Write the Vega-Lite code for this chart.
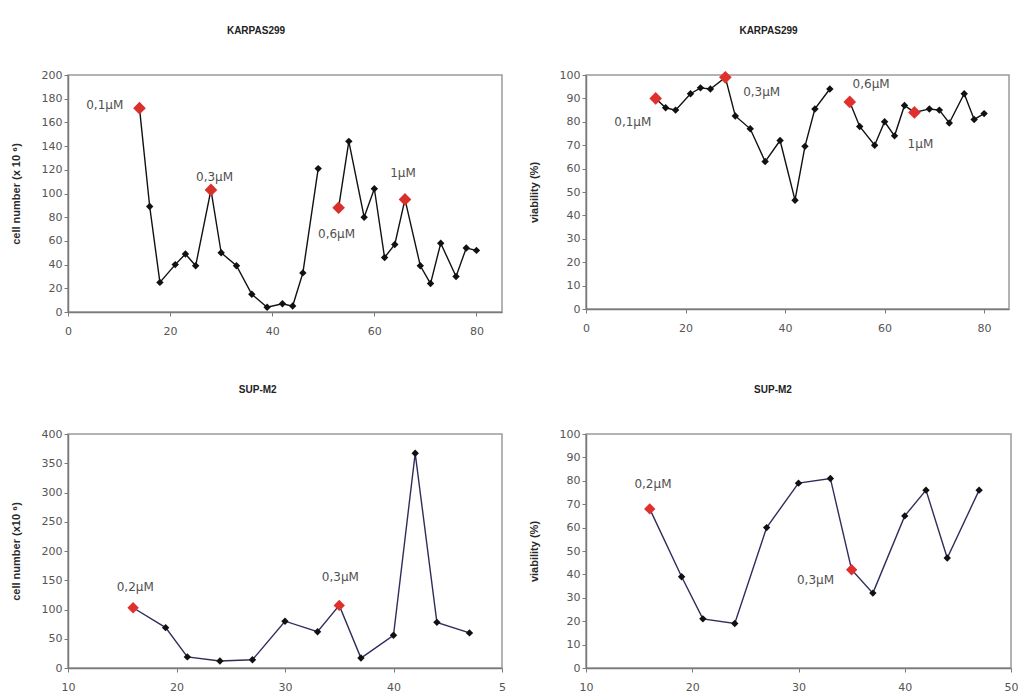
{
  "$schema": "https://vega.github.io/schema/vega-lite/v6.json",
  "background": "white",
  "padding": {"left": 9, "top": 25, "right": 4, "bottom": 2},
  "columns": 2,
  "spacing": {"column": 20, "row": 47},
  "datasets": {
    "k1": [
      {"day": 14, "value": 172, "seg": "A", "dose": "0,1µM"},
      {"day": 16, "value": 89, "seg": "A"},
      {"day": 18, "value": 25, "seg": "A"},
      {"day": 21, "value": 40, "seg": "A"},
      {"day": 23, "value": 49, "seg": "A"},
      {"day": 25, "value": 39, "seg": "A"},
      {"day": 28, "value": 103, "seg": "A", "dose": "0,3µM"},
      {"day": 30, "value": 50, "seg": "A"},
      {"day": 33, "value": 39, "seg": "A"},
      {"day": 36, "value": 15, "seg": "A"},
      {"day": 39, "value": 4, "seg": "A"},
      {"day": 42, "value": 7, "seg": "A"},
      {"day": 44, "value": 5, "seg": "A"},
      {"day": 46, "value": 33, "seg": "A"},
      {"day": 49, "value": 121, "seg": "A"},
      {"day": 53, "value": 88, "seg": "B", "dose": "0,6µM"},
      {"day": 55, "value": 144, "seg": "B"},
      {"day": 58, "value": 80, "seg": "B"},
      {"day": 60, "value": 104, "seg": "B"},
      {"day": 62, "value": 46, "seg": "B"},
      {"day": 64, "value": 57, "seg": "B"},
      {"day": 66, "value": 95, "seg": "B", "dose": "1µM"},
      {"day": 69, "value": 39, "seg": "B"},
      {"day": 71, "value": 24, "seg": "B"},
      {"day": 73, "value": 58, "seg": "B"},
      {"day": 76, "value": 30, "seg": "B"},
      {"day": 78, "value": 54, "seg": "B"},
      {"day": 80, "value": 52, "seg": "B"}
    ],
    "k2": [
      {"day": 14, "value": 90, "seg": "A", "dose": "0,1µM"},
      {"day": 16, "value": 86, "seg": "A"},
      {"day": 18, "value": 85, "seg": "A"},
      {"day": 21, "value": 92, "seg": "A"},
      {"day": 23, "value": 94.5, "seg": "A"},
      {"day": 25, "value": 94, "seg": "A"},
      {"day": 28, "value": 99, "seg": "A", "dose": "0,3µM"},
      {"day": 30, "value": 82.5, "seg": "A"},
      {"day": 33, "value": 77, "seg": "A"},
      {"day": 36, "value": 63, "seg": "A"},
      {"day": 39, "value": 72, "seg": "A"},
      {"day": 42, "value": 46.5, "seg": "A"},
      {"day": 44, "value": 69.5, "seg": "A"},
      {"day": 46, "value": 85.5, "seg": "A"},
      {"day": 49, "value": 94, "seg": "A"},
      {"day": 53, "value": 88.5, "seg": "B", "dose": "0,6µM"},
      {"day": 55, "value": 78, "seg": "B"},
      {"day": 58, "value": 70, "seg": "B"},
      {"day": 60, "value": 80, "seg": "B"},
      {"day": 62, "value": 74, "seg": "B"},
      {"day": 64, "value": 87, "seg": "B"},
      {"day": 66, "value": 84, "seg": "B", "dose": "1µM"},
      {"day": 69, "value": 85.5, "seg": "B"},
      {"day": 71, "value": 85, "seg": "B"},
      {"day": 73, "value": 79.5, "seg": "B"},
      {"day": 76, "value": 92, "seg": "B"},
      {"day": 78, "value": 81, "seg": "B"},
      {"day": 80, "value": 83.5, "seg": "B"}
    ],
    "s1": [
      {"day": 16, "value": 103, "dose": "0,2µM"},
      {"day": 19, "value": 69},
      {"day": 21, "value": 19},
      {"day": 24, "value": 12},
      {"day": 27, "value": 14},
      {"day": 30, "value": 80},
      {"day": 33, "value": 62},
      {"day": 35, "value": 107, "dose": "0,3µM"},
      {"day": 37, "value": 17},
      {"day": 40, "value": 56},
      {"day": 42, "value": 367},
      {"day": 44, "value": 78},
      {"day": 47, "value": 60}
    ],
    "s2": [
      {"day": 16, "value": 68, "dose": "0,2µM"},
      {"day": 19, "value": 39},
      {"day": 21, "value": 21},
      {"day": 24, "value": 19},
      {"day": 27, "value": 60},
      {"day": 30, "value": 79},
      {"day": 33, "value": 81},
      {"day": 35, "value": 42, "dose": "0,3µM"},
      {"day": 37, "value": 32},
      {"day": 40, "value": 65},
      {"day": 42, "value": 76},
      {"day": 44, "value": 47},
      {"day": 47, "value": 76}
    ]
  },
  "concat": [
    {
      "title": {"text": "KARPAS299"},
      "width": 434, "height": 237,
      "encoding": {
        "x": {"field": "day", "type": "quantitative", "scale": {"domain": [0, 85], "nice": false}, "axis": {"values": [0, 20, 40, 60, 80], "title": null}},
        "y": {"field": "value", "type": "quantitative", "scale": {"domain": [0, 200], "nice": false}, "axis": {"values": [0, 20, 40, 60, 80, 100, 120, 140, 160, 180, 200], "title": "cell number (x 10 ⁶)"}}
      },
      "layer": [
        {"data": {"name": "k1"}, "mark": {"type": "line", "color": "#111111", "strokeWidth": 1.4}, "encoding": {"detail": {"field": "seg"}}},
        {"data": {"name": "k1"}, "transform": [{"filter": "!isValid(datum.dose)"}], "mark": {"type": "point", "shape": "diamond", "filled": true, "color": "#111111", "size": 55, "opacity": 1}},
        {"data": {"name": "k1"}, "transform": [{"filter": "isValid(datum.dose)"}], "mark": {"type": "point", "shape": "diamond", "filled": true, "color": "#d9302c", "size": 160, "opacity": 1}},
        {"data": {"values": [
          {"lx": 7.2, "ly": 175, "dose": "0,1µM"},
          {"lx": 28.7, "ly": 114, "dose": "0,3µM"},
          {"lx": 52.6, "ly": 66, "dose": "0,6µM"},
          {"lx": 65.6, "ly": 117.5, "dose": "1µM"}
        ]}, "mark": {"type": "text", "fontSize": 12, "font": "DejaVu Sans", "color": "#505050"},
         "encoding": {"x": {"field": "lx", "type": "quantitative"}, "y": {"field": "ly", "type": "quantitative"}, "text": {"field": "dose"}}}
      ]
    },
    {
      "title": {"text": "KARPAS299"},
      "width": 423, "height": 234,
      "encoding": {
        "x": {"field": "day", "type": "quantitative", "scale": {"domain": [0, 85], "nice": false}, "axis": {"values": [0, 20, 40, 60, 80], "title": null}},
        "y": {"field": "value", "type": "quantitative", "scale": {"domain": [0, 100], "nice": false}, "axis": {"values": [0, 10, 20, 30, 40, 50, 60, 70, 80, 90, 100], "title": "viability (%)"}}
      },
      "layer": [
        {"data": {"name": "k2"}, "mark": {"type": "line", "color": "#111111", "strokeWidth": 1.4}, "encoding": {"detail": {"field": "seg"}}},
        {"data": {"name": "k2"}, "transform": [{"filter": "!isValid(datum.dose)"}], "mark": {"type": "point", "shape": "diamond", "filled": true, "color": "#111111", "size": 55, "opacity": 1}},
        {"data": {"name": "k2"}, "transform": [{"filter": "isValid(datum.dose)"}], "mark": {"type": "point", "shape": "diamond", "filled": true, "color": "#e0302c", "size": 160, "opacity": 1}},
        {"data": {"values": [
          {"lx": 9.4, "ly": 80, "dose": "0,1µM"},
          {"lx": 35.3, "ly": 92.6, "dose": "0,3µM"},
          {"lx": 57.3, "ly": 96.1, "dose": "0,6µM"},
          {"lx": 67.2, "ly": 70.7, "dose": "1µM"}
        ]}, "mark": {"type": "text", "fontSize": 12, "font": "DejaVu Sans", "color": "#505050"},
         "encoding": {"x": {"field": "lx", "type": "quantitative"}, "y": {"field": "ly", "type": "quantitative"}, "text": {"field": "dose"}}}
      ]
    },
    {
      "title": {"text": "SUP-M2"},
      "width": 434, "height": 234,
      "encoding": {
        "x": {"field": "day", "type": "quantitative", "scale": {"domain": [10, 50], "nice": false}, "axis": {"values": [10, 20, 30, 40, 50], "title": null, "labelExpr": "datum.value == 50 ? '5' : datum.label"}},
        "y": {"field": "value", "type": "quantitative", "scale": {"domain": [0, 400], "nice": false}, "axis": {"values": [0, 50, 100, 150, 200, 250, 300, 350, 400], "title": "cell number (x10 ⁶)"}}
      },
      "layer": [
        {"data": {"name": "s1"}, "mark": {"type": "line", "color": "#2e2e5c", "strokeWidth": 1.4}},
        {"data": {"name": "s1"}, "transform": [{"filter": "!isValid(datum.dose)"}], "mark": {"type": "point", "shape": "diamond", "filled": true, "color": "#111111", "size": 55, "opacity": 1}},
        {"data": {"name": "s1"}, "transform": [{"filter": "isValid(datum.dose)"}], "mark": {"type": "point", "shape": "diamond", "filled": true, "color": "#e0302c", "size": 130, "opacity": 1}},
        {"data": {"values": [
          {"lx": 16.2, "ly": 139, "dose": "0,2µM"},
          {"lx": 35.1, "ly": 155, "dose": "0,3µM"}
        ]}, "mark": {"type": "text", "fontSize": 12, "font": "DejaVu Sans", "color": "#505050"},
         "encoding": {"x": {"field": "lx", "type": "quantitative"}, "y": {"field": "ly", "type": "quantitative"}, "text": {"field": "dose"}}}
      ]
    },
    {
      "title": {"text": "SUP-M2"},
      "width": 425, "height": 234,
      "encoding": {
        "x": {"field": "day", "type": "quantitative", "scale": {"domain": [10, 50], "nice": false}, "axis": {"values": [10, 20, 30, 40, 50], "title": null}},
        "y": {"field": "value", "type": "quantitative", "scale": {"domain": [0, 100], "nice": false}, "axis": {"values": [0, 10, 20, 30, 40, 50, 60, 70, 80, 90, 100], "title": "viability (%)"}}
      },
      "layer": [
        {"data": {"name": "s2"}, "mark": {"type": "line", "color": "#2e2e5c", "strokeWidth": 1.4}},
        {"data": {"name": "s2"}, "transform": [{"filter": "!isValid(datum.dose)"}], "mark": {"type": "point", "shape": "diamond", "filled": true, "color": "#111111", "size": 55, "opacity": 1}},
        {"data": {"name": "s2"}, "transform": [{"filter": "isValid(datum.dose)"}], "mark": {"type": "point", "shape": "diamond", "filled": true, "color": "#e0302c", "size": 130, "opacity": 1}},
        {"data": {"values": [
          {"lx": 16.3, "ly": 78.6, "dose": "0,2µM"},
          {"lx": 31.6, "ly": 37.7, "dose": "0,3µM"}
        ]}, "mark": {"type": "text", "fontSize": 12, "font": "DejaVu Sans", "color": "#505050"},
         "encoding": {"x": {"field": "lx", "type": "quantitative"}, "y": {"field": "ly", "type": "quantitative"}, "text": {"field": "dose"}}}
      ]
    }
  ],
  "config": {
    "view": {"stroke": "#9a9a9a", "strokeWidth": 1.5},
    "title": {"font": "Liberation Sans", "fontSize": 10, "fontWeight": "bold", "color": "#222222", "frame": "bounds", "anchor": "middle", "offset": 33},
    "axis": {
      "grid": false,
      "domainColor": "#7a7a7a",
      "domainWidth": 1.5,
      "tickColor": "#7a7a7a",
      "tickSize": 4,
      "labelFont": "DejaVu Sans",
      "labelFontSize": 11,
      "labelColor": "#555555",
      "titleFont": "Liberation Sans",
      "titleFontSize": 11,
      "titleFontWeight": "bold",
      "titleColor": "#2a2a2a"
    },
    "axisX": {"labelPadding": 9, "labelFlush": false},
    "axisY": {"labelPadding": 2, "titlePadding": 20}
  }
}
